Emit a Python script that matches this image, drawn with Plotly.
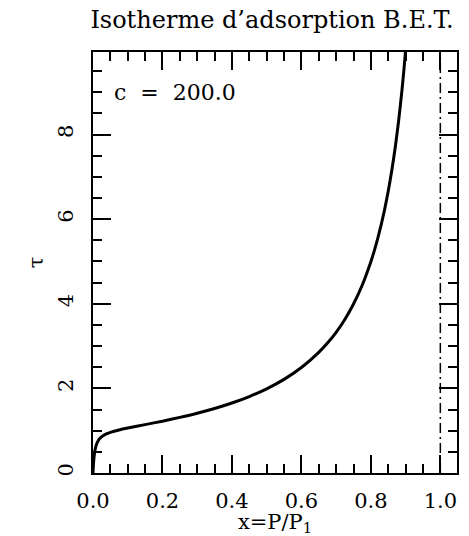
import plotly.graph_objects as go

# Data (BET isotherm, c = 200)
x_vals = [0.0, 0.0005, 0.001, 0.002, 0.003, 0.005, 0.0075, 0.01, 0.015, 0.02, 0.03, 0.04,
          0.05, 0.075, 0.1, 0.15, 0.2, 0.25, 0.3, 0.35, 0.4, 0.45, 0.5, 0.55, 0.6, 0.65,
          0.675, 0.7, 0.725, 0.75, 0.775, 0.8, 0.81, 0.82, 0.83, 0.84, 0.85, 0.86, 0.87,
          0.88, 0.89, 0.895, 0.9]
tau_vals = [0.0, 0.091, 0.167, 0.287, 0.377, 0.504, 0.606, 0.676, 0.764, 0.820, 0.887, 0.930,
            0.961, 1.018, 1.063, 1.144, 1.225, 1.314, 1.412, 1.524, 1.654, 1.807, 1.990,
            2.213, 2.492, 2.849, 3.070, 3.326, 3.629, 3.993, 4.438, 4.994, 5.257, 5.549,
            5.876, 6.244, 6.661, 7.137, 7.687, 8.328, 9.085, 9.518, 9.994]
asymptote_x = [1.0, 1.0]
asymptote_y = [0.0, 9.95]
x_ticks = [0.0, 0.2, 0.4, 0.6, 0.8, 1.0]
x_tick_labels = ["0.0", "0.2", "0.4", "0.6", "0.8", "1.0"]
y_ticks = [0, 2, 4, 6, 8]
y_tick_labels = ["0", "2", "4", "6", "8"]
title_text = "Isotherme d\u2019adsorption B.E.T."
annotation_text = "c  =  200.0"

FONT = "DejaVu Serif"

fig = go.Figure()
fig.add_trace(go.Scatter(x=x_vals, y=tau_vals, mode="lines",
                         line=dict(color="black", width=3, shape="spline", smoothing=0.6),
                         showlegend=False))
fig.add_trace(go.Scatter(x=asymptote_x, y=asymptote_y, mode="lines",
                         line=dict(color="black", width=1.5, dash="10px,4px,2px,4px"),
                         showlegend=False))

axis_common = dict(showline=True, linecolor="black", linewidth=2, mirror="allticks",
                   ticks="inside", tickcolor="black", tickwidth=2, ticklen=18,
                   showgrid=False, zeroline=False, automargin=False,
                   tickfont=dict(family=FONT, size=21, color="black"))

fig.update_xaxes(range=[0, 1.048], tickvals=x_ticks, ticktext=x_tick_labels,
                 minor=dict(ticks="inside", ticklen=9, tickwidth=2, tickcolor="black", dtick=0.05,
                            tick0=0, showgrid=False),
                 title=dict(text="x=P/P<sub>1</sub>", font=dict(family=FONT, size=21, color="black"),
                            standoff=0),
                 ticklabelstandoff=8, **axis_common)
fig.update_yaxes(range=[0, 9.95], tickvals=y_ticks, ticktext=y_tick_labels, tickangle=-90,
                 minor=dict(ticks="inside", ticklen=9, tickwidth=2, tickcolor="black", dtick=0.5,
                            tick0=0, showgrid=False),
                 title=dict(text="\u03c4", font=dict(family=FONT, size=21, color="black"),
                            standoff=4),
                 ticklabelstandoff=10, **axis_common)

fig.add_annotation(x=0.055, y=9.0, xref="x", yref="y", text=annotation_text, showarrow=False,
                   xanchor="left", yanchor="middle",
                   font=dict(family=FONT, size=22, color="black"))

fig.update_layout(
    width=469, height=536,
    margin=dict(l=93, r=12, t=52, b=63),
    paper_bgcolor="white", plot_bgcolor="white",
    title=dict(text=title_text, x=0.58, xanchor="center", xref="container",
               y=0.963, yanchor="middle", yref="container",
               font=dict(family=FONT, size=24, color="black")),
)

fig.write_html("out.html", config={"displayModeBar": False},
               post_script="document.body.style.margin='0';document.body.style.padding='0';")
